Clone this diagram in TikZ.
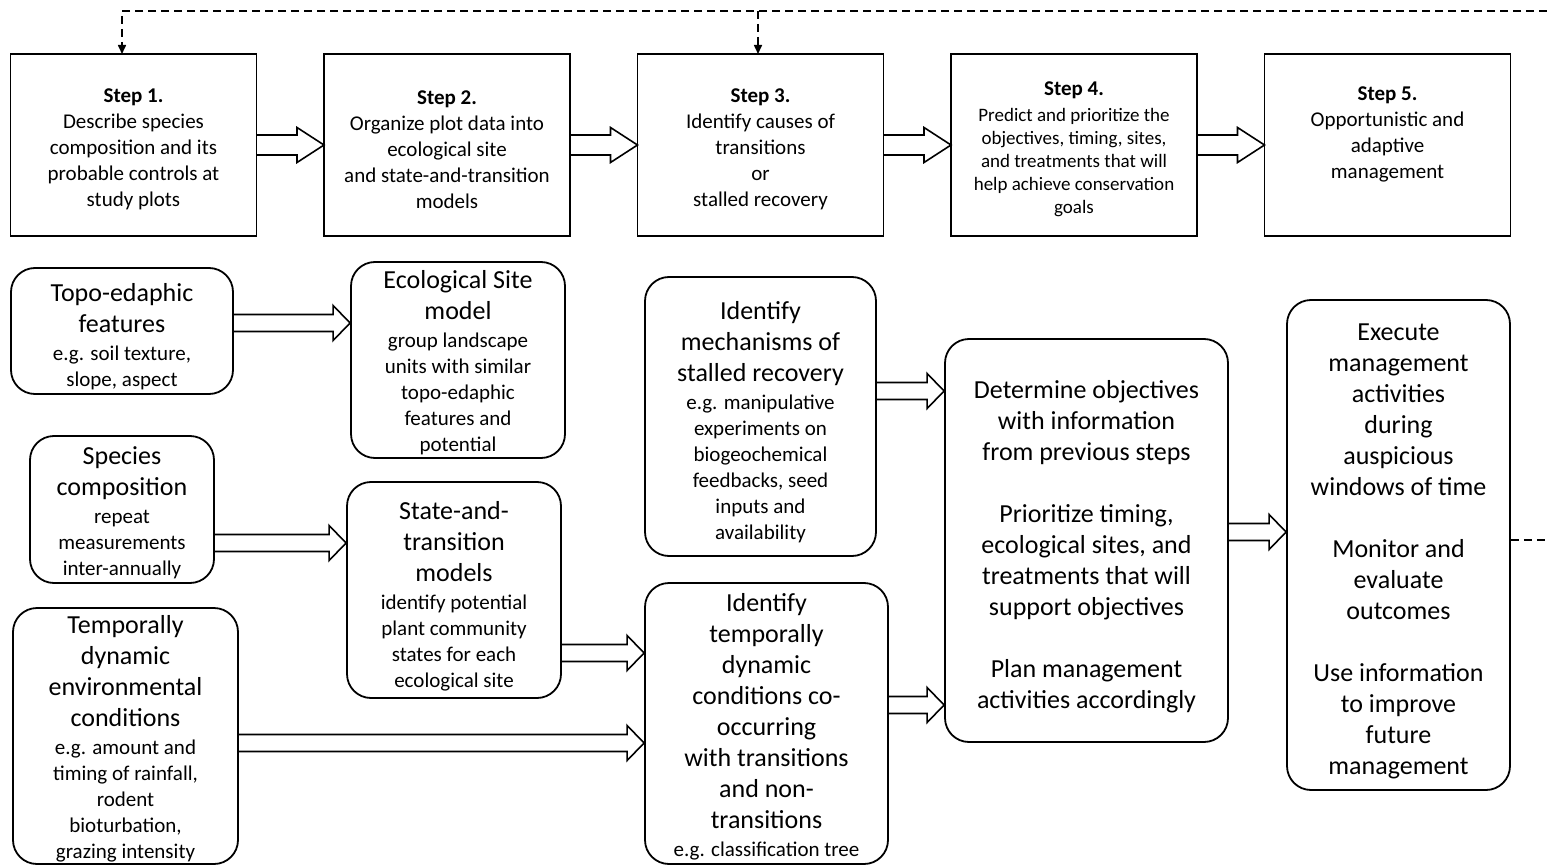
\documentclass[tikz,border=0pt]{standalone}
\usepackage{fontspec}
\setmainfont{Carlito}
\usetikzlibrary{positioning,calc,arrows.meta}

\newcommand{\sm}{\fontsize{10.5}{13}\selectfont}
\newcommand{\bt}{\fontsize{13}{15.5}\selectfont}
\newcommand{\stepsmall}{\fontsize{9.5}{11.5}\selectfont}
\newcommand{\steptitle}[1]{\rule{0pt}{11.5pt}\textbf{#1}}
\newcommand{\topgap}[1][15pt]{\rule{0pt}{#1}\ignorespaces}

% hollow block arrow: from, to, y (px), half shaft, head length
\newcommand{\fatarrow}[5]{%
	\draw[fat] let \p1=(#1.east), \p2=(#2.west), \p3=(0,#3) in
		(\x1,\y3+#4) -- (\x2-#5,\y3+#4) -- (\x2-#5,\y3+8.75pt) -- (\x2,\y3)
		-- (\x2-#5,\y3-8.75pt) -- (\x2-#5,\y3-#4) -- (\x1,\y3-#4);}

\tikzset{
	stepbox/.style={draw,rectangle,line width=0.9pt,outer sep=0pt,minimum width=123pt,minimum height=91pt,align=center,font=\sm,inner sep=2pt},
	roundbox/.style={draw,rectangle,rounded corners=12pt,line width=0.9pt,align=center,font=\bt,inner xsep=2pt,inner ysep=0pt},
	fat/.style={line width=0.8pt,line join=miter},
	dashline/.style={line width=0.8pt,dash pattern=on 4pt off 2.5pt},
	feedback/.style={dashline,-{Triangle[length=4.5pt,width=4pt]}}
}

\begin{document}
\begin{tikzpicture}[x=0.5pt,y=-0.5pt]

	\useasboundingbox (0,0) rectangle (1547,866);

	% steps
	\node[stepbox] (step1) at (133.5,145) {\steptitle{Step 1.}\\ Describe species\\ composition and its\\ probable controls at\\ study plots};
	\node[stepbox,right=33.75pt of step1] (step2) {\steptitle{Step 2.}\\ Organize plot data into\\ ecological site\\ and state-and-transition\\ models};
	\node[stepbox,right=33.75pt of step2] (step3) {\steptitle{Step 3.}\\ Identify causes of\\ transitions\\ or\\ stalled recovery};
	\node[stepbox,right=33.75pt of step3] (step4) {\steptitle{Step 4.}\\ \stepsmall Predict and prioritize the\\[-1.5pt] \stepsmall objectives, timing, sites,\\[-1.5pt] \stepsmall and treatments that will\\[-1.5pt] \stepsmall help achieve conservation\\[-1.5pt] \stepsmall goals};
	\node[stepbox,right=33.75pt of step4] (step5) {\steptitle{Step 5.}\\ Opportunistic and\\ adaptive\\ management\\ \strut};

	\fatarrow{step1}{step2}{145}{5pt}{13.5pt}
	\fatarrow{step2}{step3}{145}{5pt}{13.5pt}
	\fatarrow{step3}{step4}{145}{5pt}{13.5pt}
	\fatarrow{step4}{step5}{145}{5pt}{13.5pt}

	% inputs
	\node[roundbox,minimum width=111pt,minimum height=63pt] (topo) at (122,331)
		{\topgap Topo-edaphic\\ features\\[-1.5pt] \sm e.g. soil texture,\\[-2.5pt] \sm slope, aspect};
	\node[roundbox,minimum width=92pt,minimum height=73.5pt] (species) at (122,509.5)
		{\topgap[12pt] Species\\ composition\\[-1.5pt] \sm repeat\\[-2.5pt] \sm measurements\\[-2.5pt] \sm inter-annually};
	\node[roundbox,minimum width=112.5pt,minimum height=128pt] (envcond) at (125.5,736)
		{\topgap[12pt] Temporally\\ dynamic\\ environmental\\ conditions\\[-1.5pt] \sm e.g. amount and\\[-2.5pt] \sm timing of rainfall,\\[-2.5pt] \sm rodent\\[-2.5pt] \sm bioturbation,\\[-2.5pt] \sm grazing intensity};

	% models
	\node[roundbox,minimum width=107pt,minimum height=98pt] (ecosite) at (458,360)
		{\topgap[12pt] Ecological Site\\ model\\[-1.5pt] \sm group landscape\\[-2.5pt] \sm units with similar\\[-2.5pt] \sm topo-edaphic\\[-2.5pt] \sm features and\\[-2.5pt] \sm potential};
	\node[roundbox,minimum width=107pt,minimum height=108pt] (stm) at (454,590)
		{\topgap State-and-\\ transition\\ models\\[-1.5pt] \sm identify potential\\[-2.5pt] \sm plant community\\[-2.5pt] \sm states for each\\[-2.5pt] \sm ecological site};

	% causes
	\node[roundbox,minimum width=115.5pt,minimum height=139.5pt] (mech) at (760.5,416.5)
		{\topgap Identify\\ mechanisms of\\ stalled recovery\\[-1.5pt] \sm e.g. manipulative\\[-2.5pt] \sm experiments on\\[-2.5pt] \sm biogeochemical\\[-2.5pt] \sm feedbacks, seed\\[-2.5pt] \sm inputs and\\[-2.5pt] \sm availability};
	\node[roundbox,minimum width=121.5pt,minimum height=140.5pt] (tempdyn) at (766.5,723.5)
		{\topgap[12pt] Identify\\ temporally\\ dynamic\\ conditions co-\\ occurring\\ with transitions\\ and non-\\ transitions\\[-1.5pt] \sm e.g. classification tree};

	% plan and act
	\node[roundbox,minimum width=141.5pt,minimum height=201.5pt] (plan) at (1086.5,540.5)
		{\topgap Determine objectives\\ with information\\ from previous steps\\[15.5pt] Prioritize timing,\\ ecological sites, and\\ treatments that will\\ support objectives\\[15.5pt] Plan management\\ activities accordingly};
	\node[roundbox,minimum width=111.5pt,minimum height=245pt] (execute) at (1398.5,545)
		{\topgap Execute\\ management\\ activities\\ during\\ auspicious\\ windows of time\\[15.5pt] Monitor and\\ evaluate\\ outcomes\\[15.5pt] Use information\\ to improve\\ future\\ management};

	\fatarrow{topo}{ecosite}{323}{4.25pt}{8.5pt}
	\fatarrow{species}{stm}{543}{4.25pt}{8.5pt}
	\fatarrow{stm}{tempdyn}{653}{4.25pt}{8.5pt}
	\fatarrow{envcond}{tempdyn}{743}{4.25pt}{8.5pt}
	\fatarrow{mech}{plan}{391}{4.25pt}{8.5pt}
	\fatarrow{tempdyn}{plan}{705}{4.25pt}{8.5pt}
	\fatarrow{plan}{execute}{532}{4.25pt}{8.5pt}

	% feedback loop
	\coordinate (fbtop) at (1547,11);
	\coordinate (fbside) at (1547,540);
	\draw[feedback] (fbtop) -| ([xshift=-5.75pt]step1.north);
	\draw[feedback] ([xshift=-1.25pt]step3.north |- fbtop) -- ([xshift=-1.25pt]step3.north);
	\draw[dashline] (execute.east |- fbside) -- (fbside);

\end{tikzpicture}
\end{document}
